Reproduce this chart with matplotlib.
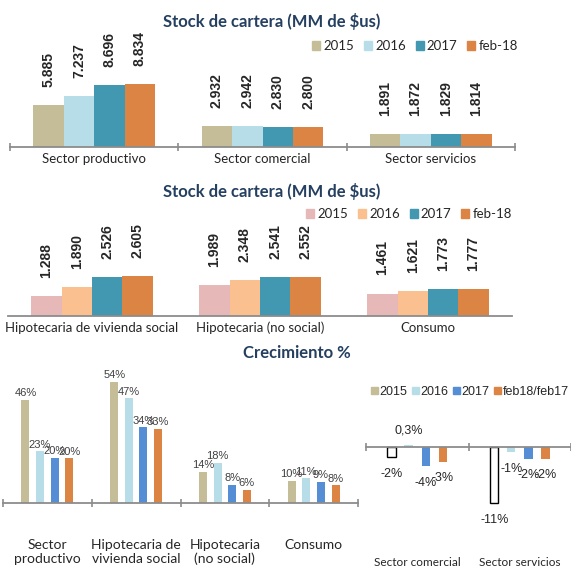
import numpy as np
import matplotlib
matplotlib.use("Agg")
import matplotlib.pyplot as plt
from matplotlib.patches import Patch

# --- data ---------------------------------------------------------------
series = ["2015", "2016", "2017", "feb-18"]

top_cats = ["Sector productivo", "Sector comercial", "Sector servicios"]
top_2015 = [5.885, 2.932, 1.891]
top_2016 = [7.237, 2.942, 1.872]
top_2017 = [8.696, 2.830, 1.829]
top_feb18 = [8.834, 2.800, 1.814]

mid_cats = ["Hipotecaria de vivienda social", "Hipotecaria (no social)", "Consumo"]
mid_2015 = [1.288, 1.989, 1.461]
mid_2016 = [1.890, 2.348, 1.621]
mid_2017 = [2.526, 2.541, 1.773]
mid_feb18 = [2.605, 2.552, 1.777]

gr_series = ["2015", "2016", "2017", "feb18/feb17"]
gr_cats = ["Sector\nproductivo", "Hipotecaria de\nvivienda social", "Hipotecaria\n(no social)", "Consumo"]
gr_2015 = [46, 54, 14, 10]
gr_2016 = [23.0, 46.7, 18.0, 11.0]
gr_2017 = [20.2, 33.7, 8.2, 9.4]
gr_feb = [20, 33, 6, 8]

neg_cats = ["Sector comercial", "Sector servicios"]
neg_2015 = [-2, -11]
neg_2016 = [0.3, -1.0]
neg_2017 = [-3.8, -2.3]
neg_feb = [-2.9, -2.3]

# --- style --------------------------------------------------------------
TITLE_C = "#243F60"
TXT_C = "#262626"
AX_C = "#8C8C8C"
top_colors = ["#C4BD97", "#B7DEE8", "#4298B0", "#DC8444"]
mid_colors = ["#E6B9B8", "#FAC090", "#4298B0", "#DC8444"]
gr_colors = ["#C4BD97", "#B7DEE8", "#558ED5", "#DC8444"]

W, H = 571, 569


def fbox(x0, y_top, x1, y_bot):
    return [x0 / W, 1 - y_bot / H, (x1 - x0) / W, (y_bot - y_top) / H]


def clean(ax):
    for s in ["top", "right", "left"]:
        ax.spines[s].set_visible(False)
    ax.spines["bottom"].set_color(AX_C)
    ax.spines["bottom"].set_linewidth(1.3)
    ax.set_yticks([])


fig = plt.figure(figsize=(W / 100, H / 100), dpi=100)


def stock_panel(box, cats, vals, colors, ymax, ticks, legend_pos):
    ax = fig.add_axes(box)
    clean(ax)
    x = np.arange(len(cats))
    w = 0.181
    for i, v in enumerate(vals):
        xs = x + (i - 1.5) * w
        ax.bar(xs, v, w, color=colors[i], linewidth=0)
        for xi, vi in zip(xs, v):
            ax.annotate(f"{vi:.3f}", (xi, vi), xytext=(0, 13), textcoords="offset points",
                        rotation=90, ha="center", va="bottom", fontsize=10,
                        fontweight="bold", family="Liberation Sans", color=TXT_C)
    ax.set_xlim(-0.5, len(cats) - 0.5)
    ax.set_ylim(0, ymax)
    if ticks:
        ax.set_xticks(np.arange(len(cats) + 1) - 0.5)
        ax.tick_params(axis="x", which="major", direction="inout", length=6,
                       width=1.2, color=AX_C, labelbottom=False)
    else:
        ax.set_xticks([])
    ax.set_xticks(x, minor=True)
    ax.set_xticklabels(cats, minor=True, family="Lato", fontsize=9.5, color=TXT_C)
    ax.tick_params(axis="x", which="minor", length=0, pad=4)
    handles = [Patch(color=c, label=s) for c, s in zip(colors, series)]
    fig.legend(handles=handles, loc="center", bbox_to_anchor=legend_pos, ncol=4,
               frameon=False, prop={"family": "Lato", "size": 9.5},
               handlelength=0.6, handleheight=0.6, handletextpad=0.25,
               columnspacing=0.75, labelcolor=TXT_C)
    return ax


stock_panel(fbox(10, 55, 515, 147), top_cats,
            [top_2015, top_2016, top_2017, top_feb18], top_colors,
            92 / 7.1, True, (415 / W, 1 - 46 / H))
fig.text(272 / W, 1 - 22 / H, "Stock de cartera (MM de $us)", ha="center", va="center",
         family="Lato", fontweight="bold", fontsize=12, color=TITLE_C)

stock_panel(fbox(8, 225, 512, 316), mid_cats,
            [mid_2015, mid_2016, mid_2017, mid_feb18], mid_colors,
            91 / 15.4, False, (409 / W, 1 - 214 / H))
fig.text(272 / W, 1 - 192 / H, "Stock de cartera (MM de $us)", ha="center", va="center",
         family="Lato", fontweight="bold", fontsize=12, color=TITLE_C)

fig.text(297 / W, 1 - 353 / H, "Crecimiento %", ha="center", va="center",
         family="Lato", fontweight="bold", fontsize=12, color=TITLE_C)

# --- growth, left -------------------------------------------------------
ax = fig.add_axes(fbox(3, 370, 358, 503))
clean(ax)
x = np.arange(len(gr_cats))
w, step = 0.09, 0.165
for i, v in enumerate([gr_2015, gr_2016, gr_2017, gr_feb]):
    xs = x + (i - 1.5) * step
    ax.bar(xs, v, w, color=gr_colors[i], linewidth=0)
    for xi, vi in zip(xs, v):
        ax.annotate(f"{vi:.0f}%", (xi, vi), xytext=(0, 1), textcoords="offset points",
                    ha="center", va="bottom", fontsize=8, family="Liberation Sans",
                    color="#404040")
ax.set_xlim(-0.5, len(gr_cats) - 0.5)
ax.set_ylim(0, 133 / 2.25)
ax.set_xticks(np.arange(len(gr_cats) + 1) - 0.5)
ax.tick_params(axis="x", which="major", direction="inout", length=6, width=1.2,
               color=AX_C, labelbottom=False)
ax.set_xticks(x, minor=True)
ax.set_xticklabels(gr_cats, minor=True, family="Lato", fontsize=10, color=TXT_C,
                   linespacing=1.15)
ax.tick_params(axis="x", which="minor", length=0, pad=26)

# --- growth, right ------------------------------------------------------
ax = fig.add_axes(fbox(366, 405, 571, 525))
clean(ax)
ax.spines["bottom"].set_position(("data", 0))
x = np.arange(len(neg_cats))
w, step = 0.083, 0.166
for i, v in enumerate([neg_2015, neg_2016, neg_2017, neg_feb]):
    xs = x + (i - 1.5) * step
    if i == 0:
        ax.bar(xs, v, w, facecolor="white", edgecolor="black", linewidth=1)
    else:
        ax.bar(xs, v, w, color=gr_colors[i], linewidth=0)
    for xi, vi in zip(xs, v):
        lab = f"{vi:.1f}".replace(".", ",") + "%" if abs(vi) < 1 else f"{vi:.0f}%"
        off = -12 if vi < 0 else 11
        ax.annotate(lab, (xi, vi), xytext=(0, off), textcoords="offset points",
                    ha="center", va="center", fontsize=9, family="Liberation Sans",
                    color=TXT_C)
ax.set_xlim(-0.5, len(neg_cats) - 0.5)
ax.set_ylim(-78 / 5.1, 42 / 5.1)
ax.set_xticks(np.arange(len(neg_cats) + 1) - 0.5)
ax.tick_params(axis="x", which="major", direction="inout", length=6, width=1.2,
               color=AX_C, labelbottom=False)
for xi, c in zip(x, neg_cats):
    ax.text(xi, -(563 - 447) / 5.1, c, ha="center", va="center", family="Lato",
            fontsize=8.5, color=TXT_C, clip_on=False)

handles = [Patch(color=c, label=s) for c, s in zip(gr_colors, gr_series)]
fig.legend(handles=handles, loc="center right", bbox_to_anchor=(569 / W, 1 - 392 / H),
           ncol=4, frameon=False, prop={"family": "Liberation Sans", "size": 9},
           handlelength=0.55, handleheight=0.55, handletextpad=0.15,
           columnspacing=0.35, labelcolor=TXT_C, borderpad=0, borderaxespad=0)

fig.savefig("out.png", dpi=100)
